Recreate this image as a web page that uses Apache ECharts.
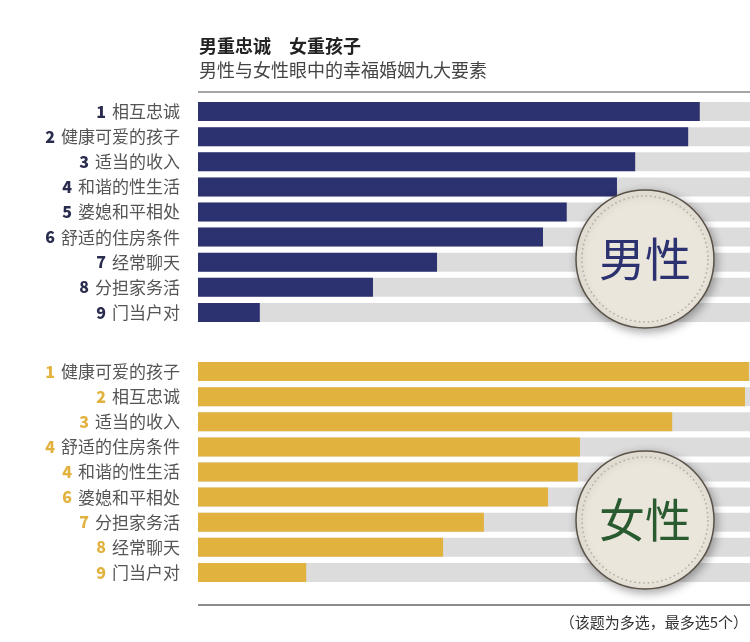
<!DOCTYPE html>
<html>
<head>
<meta charset="utf-8">
<script src="https://cdn.jsdelivr.net/npm/echarts@6/dist/echarts.min.js"></script>
<style>
  html, body { margin: 0; padding: 0; background: #fff; }
  #chart { width: 750px; height: 642px; }
</style>
</head>
<body>
<div id="chart"></div>
<script>
// 男性
const maleRanks = [1, 2, 3, 4, 5, 6, 7, 8, 9]
const maleItems = ['相互忠诚', '健康可爱的孩子', '适当的收入', '和谐的性生活', '婆媳和平相处', '舒适的住房条件', '经常聊天', '分担家务活', '门当户对']
const maleValues = [90.9, 88.8, 79.2, 75.9, 66.8, 62.5, 43.3, 31.7, 11.2]

// 女性
const femaleRanks = [1, 2, 3, 4, 4, 6, 7, 8, 9]
const femaleItems = ['健康可爱的孩子', '相互忠诚', '适当的收入', '舒适的住房条件', '和谐的性生活', '婆媳和平相处', '分担家务活', '经常聊天', '门当户对']
const femaleValues = [99.8, 99.1, 85.9, 69.2, 68.8, 63.4, 51.8, 44.4, 19.6]

const cjk = '"Noto Sans CJK SC", sans-serif'
const navy = '#2c3170'
const gold = '#e2b23f'

const chart = echarts.init(document.getElementById('chart'))

// 左侧标签：序号 + 要素
const makeAxis = (gridIndex, ranks, items, numColor) => ({
  type: 'category',
  gridIndex,
  inverse: true,
  data: items.map((t, i) => `${ranks[i]}|${t}`),
  axisLine: { show: false },
  axisTick: { show: false },
  axisLabel: {
    margin: 18,
    formatter: v => {
      const [n, t] = v.split('|')
      return `{n|${n}}{t|${t}}`
    },
    rich: {
      n: { fontFamily: cjk, fontWeight: 900, fontSize: 16, color: numColor, lineHeight: 20, padding: [0, 6, 0, 0] },
      t: { fontFamily: cjk, fontSize: 17, color: '#555', lineHeight: 20 }
    }
  }
})

const makeSeries = (idx, values, color) => ({
  type: 'bar',
  xAxisIndex: idx,
  yAxisIndex: idx,
  data: values,
  barWidth: 19,
  itemStyle: { color },
  showBackground: true,
  backgroundStyle: { color: '#dcdcdc' },
  silent: true
})

// 圆形徽章
const badge = (cy, text, color) => ([
  {
    type: 'circle',
    shape: { cx: 645, cy, r: 69 },
    style: { fill: '#ebe6dc', stroke: '#5a5248', lineWidth: 1.5, shadowBlur: 10, shadowColor: 'rgba(0,0,0,0.35)', shadowOffsetX: 2, shadowOffsetY: 3 },
    z: 10
  },
  {
    type: 'circle',
    shape: { cx: 645, cy, r: 63 },
    style: { fill: 'none', stroke: '#b3aa9c', lineWidth: 1.5, lineDash: [1.5, 3] },
    z: 11
  },
  {
    type: 'text',
    x: 645, y: cy,
    style: { text, fill: color, font: `46px ${cjk}`, textAlign: 'center', textVerticalAlign: 'middle' },
    z: 12
  }
])

chart.setOption({
  backgroundColor: '#fff',
  animation: false,
  grid: [
    { left: 198, right: 0, top: 99, height: 226 },
    { left: 198, right: 0, top: 359, height: 226 }
  ],
  xAxis: [
    { type: 'value', gridIndex: 0, min: 0, max: 100, show: false },
    { type: 'value', gridIndex: 1, min: 0, max: 100, show: false }
  ],
  yAxis: [
    makeAxis(0, maleRanks, maleItems, '#2a2c4e'),
    makeAxis(1, femaleRanks, femaleItems, gold)
  ],
  series: [
    makeSeries(0, maleValues, navy),
    makeSeries(1, femaleValues, gold)
  ],
  graphic: [
    {
      type: 'text', x: 199, y: 37,
      style: { text: '男重忠诚　女重孩子', fill: '#222', font: `bold 18px ${cjk}` }
    },
    {
      type: 'text', x: 199, y: 61,
      style: { text: '男性与女性眼中的幸福婚姻九大要素', fill: '#444', font: `18px ${cjk}` }
    },
    {
      type: 'line', shape: { x1: 198, y1: 92, x2: 750, y2: 92 },
      style: { stroke: '#888', lineWidth: 1.5 }
    },
    {
      type: 'line', shape: { x1: 198, y1: 605, x2: 750, y2: 605 },
      style: { stroke: '#666', lineWidth: 1.5 }
    },
    {
      type: 'text', x: 748, y: 622,
      style: { text: '（该题为多选，最多选5个）', fill: '#333', font: `15px ${cjk}`, textAlign: 'right', textVerticalAlign: 'middle' }
    },
    ...badge(259, '男性', navy),
    ...badge(520, '女性', '#2a5a30')
  ]
})
</script>
</body>
</html>
